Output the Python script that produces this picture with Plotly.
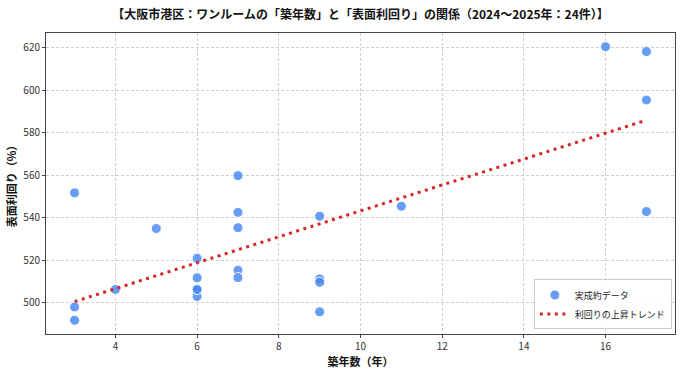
import numpy as np
import plotly.graph_objects as go

# Data: building age (years) and surface yield values
age = [3, 3, 3, 4, 5, 6, 6, 6, 6, 6, 7, 7, 7, 7, 7, 9, 9, 9, 9, 11, 16, 17, 17, 17]
yld = [551.8, 498.1, 491.8, 506.3, 535.0, 521.0, 511.8, 506.3, 503.0, 506.3,
       559.9, 542.6, 535.4, 515.4, 511.9, 540.8, 511.3, 509.7, 495.8,
       545.5, 620.6, 618.3, 595.5, 543.0]

title = "【大阪市港区：ワンルームの「築年数」と「表面利回り」の関係（2024～2025年：24件）】"
x_label = "築年数（年）"
y_label = "表面利回り（%）"
scatter_name = "実成約データ"
trend_name = "利回りの上昇トレンド"
x_ticks = [4, 6, 8, 10, 12, 14, 16]
y_ticks = [500, 520, 540, 560, 580, 600, 620]

font_family = "Noto Sans CJK JP, Noto Sans, sans-serif"

coef = np.polyfit(age, yld, 1)
tx = np.array([min(age), max(age)], dtype=float)
ty = np.polyval(coef, tx)

fig = go.Figure()
fig.add_trace(go.Scatter(
    x=age, y=yld, mode="markers", name=scatter_name,
    marker=dict(size=10, color="rgba(66,133,244,0.8)",
                line=dict(color="white", width=1)),
))
fig.add_trace(go.Scatter(
    x=tx, y=ty, mode="lines", name=trend_name,
    line=dict(color="#d62728", width=3, dash="3px,4.5px"),
))

xr = [min(age) - 0.05 * (max(age) - min(age)), max(age) + 0.05 * (max(age) - min(age))]
yr = [min(yld) - 0.05 * (max(yld) - min(yld)), max(yld) + 0.05 * (max(yld) - min(yld))]

axis_common = dict(
    showline=True, linecolor="#444444", linewidth=1, mirror=True,
    showgrid=True, gridcolor="#d0d0d0", griddash="3px,2px", gridwidth=1,
    ticks="outside", ticklen=3, tickcolor="#444444",
    tickfont=dict(size=10, color="#333333", family=font_family),
    zeroline=False,
)

fig.update_layout(
    width=682, height=375,
    margin=dict(l=46, r=7, t=33, b=41),
    paper_bgcolor="white", plot_bgcolor="white",
    font=dict(family=font_family),
    title=dict(text=title, x=(46 + 675) / 2 / 682, xanchor="center",
               y=1 - 15 / 375, yanchor="middle",
               font=dict(size=12, color="#111111", family=font_family, weight="bold")),
    xaxis=dict(range=xr, tickvals=x_ticks,
               title=dict(text=x_label, standoff=0,
                          font=dict(size=11, color="#111111", weight="bold")),
               **axis_common),
    yaxis=dict(range=yr, tickvals=y_ticks,
               title=dict(text=y_label, standoff=4,
                          font=dict(size=11, color="#111111", weight="bold")),
               **axis_common),
    legend=dict(x=0.995, y=0.015, xanchor="right", yanchor="bottom",
                bgcolor="rgba(255,255,255,0.85)", bordercolor="#cccccc", borderwidth=1,
                font=dict(size=9, color="#222222", family=font_family),
                itemwidth=30, tracegroupgap=0),
    showlegend=True,
)

fig.write_html("out.html")
